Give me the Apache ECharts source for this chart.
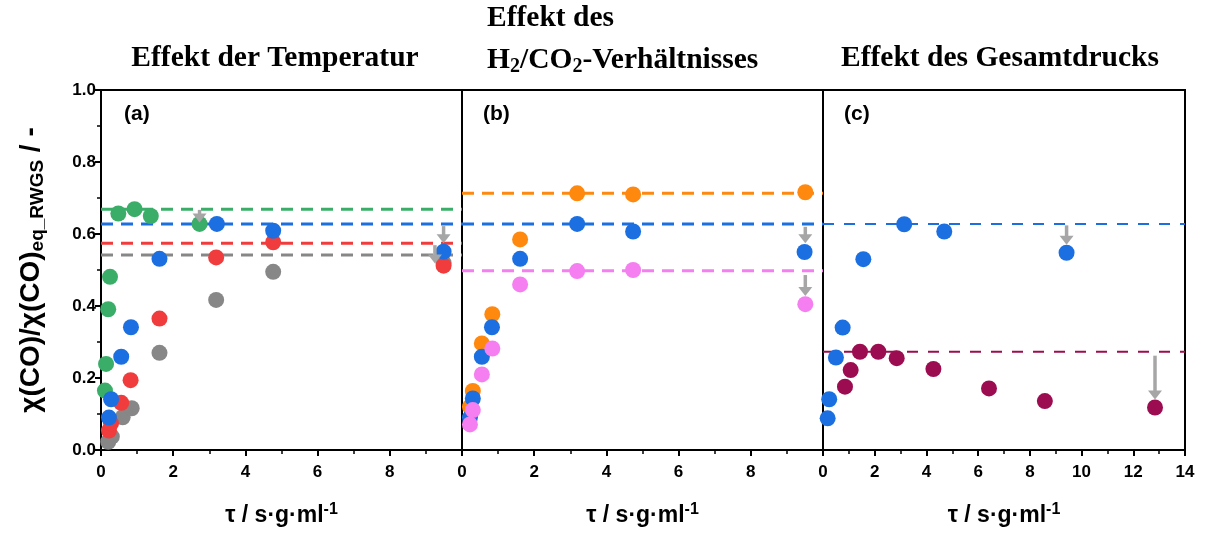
<!DOCTYPE html>
<html><head><meta charset="utf-8">
<script src="https://cdn.jsdelivr.net/npm/echarts@6/dist/echarts.min.js"></script>
<style>html,body{margin:0;padding:0;background:#fff}#c{width:1206px;height:539px}</style>
</head><body><div id="c"></div>
<script>
// ---- data ----
// panel (a): Effekt der Temperatur
const aGreen = [[0.11,0.165],[0.14,0.239],[0.20,0.391],[0.25,0.481],[0.48,0.657],[0.93,0.669],[1.38,0.650],[2.73,0.628]];
const aGray  = [[0.20,0.023],[0.30,0.037],[0.60,0.091],[0.85,0.116],[1.62,0.270],[3.19,0.417],[4.77,0.495],[9.49,0.520]];
const aRed   = [[0.22,0.054],[0.28,0.074],[0.56,0.131],[0.82,0.194],[1.62,0.365],[3.19,0.535],[4.77,0.577],[9.49,0.512]];
const aBlue  = [[0.22,0.090],[0.28,0.141],[0.56,0.259],[0.83,0.341],[1.62,0.531],[3.21,0.628],[4.77,0.609],[9.49,0.551]];
const aLevels = {green:0.669, blue:0.628, red:0.574, gray:0.542};
const aArrows = [[2.73,0.667,0.632],[9.49,0.622,0.574],[9.25,0.569,0.518]];
// panel (b): Effekt des H2/CO2-Verhaeltnisses
const bOrange = [[0.22,0.120],[0.30,0.164],[0.55,0.296],[0.84,0.377],[1.61,0.585],[3.19,0.713],[4.74,0.710],[9.51,0.716]];
const bBlue   = [[0.22,0.090],[0.30,0.143],[0.55,0.259],[0.83,0.341],[1.61,0.531],[3.19,0.628],[4.74,0.607],[9.49,0.550]];
const bPink   = [[0.22,0.071],[0.30,0.111],[0.55,0.210],[0.84,0.282],[1.61,0.460],[3.19,0.497],[4.74,0.500],[9.51,0.405]];
const bLevels = {orange:0.713, blue:0.628, pink:0.498};
const bArrows = [[9.51,0.620,0.574],[9.51,0.486,0.428]];
// panel (c): Effekt des Gesamtdrucks
const cBlue   = [[0.18,0.088],[0.24,0.141],[0.50,0.257],[0.76,0.340],[1.56,0.530],[3.14,0.627],[4.69,0.607],[9.42,0.548]];
const cPurple = [[0.85,0.176],[1.07,0.222],[1.43,0.273],[2.14,0.273],[2.85,0.255],[4.27,0.225],[6.42,0.171],[8.58,0.136],[12.84,0.118]];
const cLevels = {blue:0.628, purple:0.273};
const cArrows = [[9.42,0.624,0.570],[12.84,0.262,0.140]];
const xMax = [10, 10, 14];

const col = {green:'#3aae68', gray:'#878787', red:'#f03c3c', blue:'#1b6fe0', orange:'#ff880f', pink:'#f57ef0', purple:'#9c0c50', arrow:'#a6a6a6'};
const FONT = 'Liberation Sans, Arial, sans-serif';
const SERIF = 'Liberation Serif, Times New Roman, serif';

const grids = [
  {left:101, top:90, width:361, height:360},
  {left:462, top:90, width:361, height:360},
  {left:823, top:90, width:362, height:360}
].map(g => Object.assign(g, {show:true, borderColor:'#000', borderWidth:2, containLabel:false}));

const xName = {name:'{a|τ / s·g·ml}{s|-1}', nameLocation:'middle', nameGap:52,
  nameTextStyle:{rich:{a:{fontFamily:FONT, fontWeight:'bold', fontSize:23, color:'#000', lineHeight:28},
                      s:{fontFamily:FONT, fontWeight:'bold', fontSize:16, color:'#000', lineHeight:28, verticalAlign:'top', padding:[0,0,10,0]}}}};

const xAxes = [0,1,2].map(i => Object.assign({
  type:'value', gridIndex:i, min:0, max:xMax[i], interval:2,
  axisLine:{show:true, lineStyle:{color:'#000', width:2}},
  axisTick:{show:true, length:6, inside:false, lineStyle:{color:'#000', width:2}},
  minorTick:{show:true, splitNumber:2, length:4, lineStyle:{color:'#000', width:1.5}},
  splitLine:{show:false},
  axisLabel:{fontFamily:FONT, fontWeight:'bold', fontSize:17, color:'#000', margin:14,
    showMaxLabel: i===2, formatter: v => String(v)}
}, xName));

const yAxes = [0,1,2].map(i => ({
  type:'value', gridIndex:i, min:0, max:1, interval:0.2,
  axisLine:{show:i===0, lineStyle:{color:'#000', width:2}},
  axisTick:{show:i===0, length:6, lineStyle:{color:'#000', width:2}},
  minorTick:{show:i===0, splitNumber:2, length:4, lineStyle:{color:'#000', width:1.5}},
  splitLine:{show:false},
  axisLabel:{show:i===0, fontFamily:FONT, fontWeight:'bold', fontSize:17, color:'#000', margin:5,
    formatter: v => v.toFixed(1)},
  name: i===0 ? '{a|χ(CO)/χ(CO)}{s|eq_RWGS}{a| / -}' : '',
  nameLocation:'middle', nameGap:54, nameRotate:90,
  nameTextStyle:{rich:{a:{fontFamily:FONT, fontWeight:'bold', fontSize:28, color:'#000', lineHeight:32},
                       s:{fontFamily:FONT, fontWeight:'bold', fontSize:19, color:'#000', lineHeight:32, verticalAlign:'bottom', padding:[10,0,0,0]}}}
}));

function scatter(data, color, gi) {
  return {type:'scatter', xAxisIndex:gi, yAxisIndex:gi, data:data, symbol:'circle', symbolSize:16,
    itemStyle:{color:color, opacity:1}, z:3, silent:true};
}
function level(v, color, gi, w, dash) {
  return {type:'line', xAxisIndex:gi, yAxisIndex:gi, data:[[0,v],[xMax[gi],v]], symbol:'none',
    lineStyle:{color:color, width:w, type:dash}, z:2, silent:true};
}
function arrows(list, gi) {
  return {type:'custom', xAxisIndex:gi, yAxisIndex:gi, z:4, silent:true,
    data:list,
    renderItem:(params, api) => {
      const p1 = api.coord([api.value(0), api.value(1)]);
      const p2 = api.coord([api.value(0), api.value(2)]);
      const head = 9, hw = 7;
      return {type:'group', children:[
        {type:'line', shape:{x1:p1[0], y1:p1[1], x2:p2[0], y2:p2[1]-head+1}, style:{stroke:col.arrow, lineWidth:3.5}},
        {type:'polygon', shape:{points:[[p2[0]-hw,p2[1]-head],[p2[0]+hw,p2[1]-head],[p2[0],p2[1]]]}, style:{fill:col.arrow}}
      ]};
    }};
}
const dashA = [12, 8], dashC = [11, 10];

const series = [
  level(aLevels.green, col.green, 0, 3, dashA),
  level(aLevels.blue, col.blue, 0, 3, dashA),
  level(aLevels.red, col.red, 0, 3, dashA),
  level(aLevels.gray, col.gray, 0, 3, dashA),
  scatter(aGreen, col.green, 0), scatter(aGray, col.gray, 0), scatter(aRed, col.red, 0), scatter(aBlue, col.blue, 0),
  arrows(aArrows, 0),
  level(bLevels.orange, col.orange, 1, 3, dashA),
  level(bLevels.blue, col.blue, 1, 3, dashA),
  level(bLevels.pink, col.pink, 1, 3, dashA),
  scatter(bOrange, col.orange, 1), scatter(bBlue, col.blue, 1), scatter(bPink, col.pink, 1),
  arrows(bArrows, 1),
  level(cLevels.blue, col.blue, 2, 2, dashC),
  level(cLevels.purple, col.purple, 2, 2, dashC),
  scatter(cPurple, col.purple, 2), scatter(cBlue, col.blue, 2),
  arrows(cArrows, 2)
];

const TS = 29.5;
const titleStyle = {fontFamily:SERIF, fontWeight:'bold', fontSize:TS, fill:'#000'};
const subRich = {
  a:{fontFamily:SERIF, fontWeight:'bold', fontSize:TS, color:'#000', lineHeight:34},
  s:{fontFamily:SERIF, fontWeight:'bold', fontSize:20, color:'#000', lineHeight:34, verticalAlign:'bottom', padding:[10,0,0,0]}
};
const graphic = [
  {type:'text', style:Object.assign({text:'Effekt der Temperatur', x:275, y:58, align:'center', verticalAlign:'middle'}, titleStyle)},
  {type:'text', style:Object.assign({text:'Effekt des', x:487, y:18, align:'left', verticalAlign:'middle'}, titleStyle)},
  {type:'text', style:{text:'{a|H}{s|2}{a|/CO}{s|2}{a|-Verhältnisses}', rich:subRich, x:487, y:60, align:'left', verticalAlign:'middle'}},
  {type:'text', style:Object.assign({text:'Effekt des Gesamtdrucks', x:1000, y:58, align:'center', verticalAlign:'middle'}, titleStyle)},
  {type:'text', style:{text:'(a)', x:124, y:114, verticalAlign:'middle', fontFamily:FONT, fontWeight:'bold', fontSize:21, fill:'#000'}},
  {type:'text', style:{text:'(b)', x:483, y:114, verticalAlign:'middle', fontFamily:FONT, fontWeight:'bold', fontSize:21, fill:'#000'}},
  {type:'text', style:{text:'(c)', x:844, y:114, verticalAlign:'middle', fontFamily:FONT, fontWeight:'bold', fontSize:21, fill:'#000'}}
];

const chart = echarts.init(document.getElementById('c'), null, {renderer:'canvas'});
chart.setOption({animation:false, backgroundColor:'#fff', grid:grids, xAxis:xAxes, yAxis:yAxes, series:series, graphic:graphic});
</script></body></html>
